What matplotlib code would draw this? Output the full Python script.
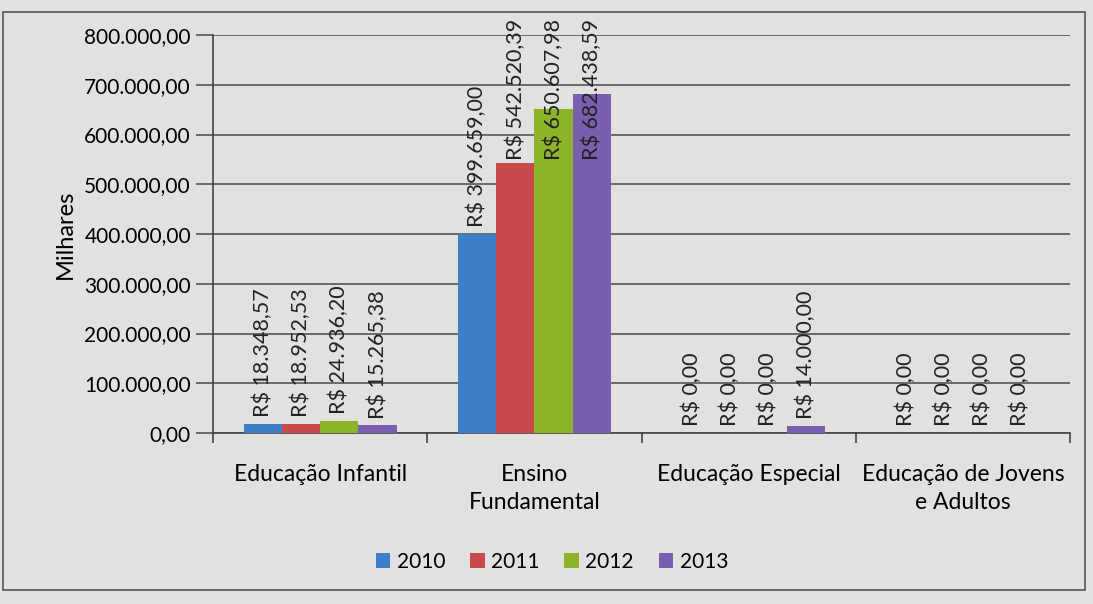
import matplotlib.pyplot as plt
import matplotlib.patches as patches
from matplotlib.ticker import FuncFormatter
import numpy as np

plt.rcParams['font.family'] = ['Lato', 'DejaVu Sans']

categorias = ['Educação Infantil', 'Ensino\nFundamental', 'Educação Especial', 'Educação de Jovens\ne Adultos']
anos = ['2010', '2011', '2012', '2013']
valores = {
    '2010': [18348.57, 399659.00, 0.00, 0.00],
    '2011': [18952.53, 542520.39, 0.00, 0.00],
    '2012': [24936.20, 650607.98, 0.00, 0.00],
    '2013': [15265.38, 682438.59, 14000.00, 0.00],
}
cores = ['#3d7fc8', '#c94a4a', '#8db32a', '#7a5fb0']

def br(v, dec=2):
    s = '{:,.{}f}'.format(v, dec)
    return s.replace(',', 'X').replace('.', ',').replace('X', '.')

fig = plt.figure(figsize=(10.93, 6.04), dpi=100, facecolor='#e1e1df')
ax = fig.add_axes([0.195, 0.283, 0.784, 0.659])
ax.set_facecolor('#e1e1df')

x = np.arange(len(categorias))
w = 0.178
labels = []
for i, ano in enumerate(anos):
    pos = x + (i - 1.5) * w
    ax.bar(pos, valores[ano], w, color=cores[i], label=ano, zorder=3)
    for p, v in zip(pos, valores[ano]):
        t = ax.annotate('R$ ' + br(v), (p, v), xytext=(0, 5), textcoords='offset points',
                        rotation=90, ha='center', va='bottom', fontsize=15.5, color='#222222', zorder=4)
        labels.append(t)

ax.set_xlim(-0.5, 3.5)
ax.set_ylim(0, 800000)
ax.set_yticks(np.arange(0, 800001, 100000))
ax.yaxis.set_major_formatter(FuncFormatter(lambda v, p: br(v)))
ax.grid(axis='y', color='#555555', linewidth=1.2, zorder=0)
ax.set_xticks(x)
ax.set_xticklabels(categorias, fontsize=16.5, linespacing=1.45)
ax.set_xticks([-0.5, 0.5, 1.5, 2.5, 3.5], minor=True)
ax.tick_params(axis='x', which='major', length=0, pad=22)
ax.tick_params(axis='x', which='minor', length=7, width=1.2, color='#444444')
ax.tick_params(axis='y', length=12, width=1.2, color='#555555', labelsize=15, pad=4)
for s in ['top', 'right']:
    ax.spines[s].set_visible(False)
ax.spines['left'].set_color('#444444')
ax.spines['bottom'].set_color('#444444')
ax.spines['left'].set_linewidth(1.2)
ax.spines['bottom'].set_linewidth(1.2)
ax.set_ylabel('Milhares', fontsize=17, labelpad=6)

# keep rotated labels inside the chart area
fig.canvas.draw()
r = fig.canvas.get_renderer()
limite = ax.get_window_extent(r).y1 + 16
for t in labels:
    bb = t.get_window_extent(r)
    if bb.y1 > limite:
        t.set_position((0, 5 - (bb.y1 - limite) * 72 / fig.dpi))

fig.legend(loc='center', bbox_to_anchor=(0.505, 0.07), ncol=4, frameon=False, fontsize=15,
           handlelength=0.7, handleheight=0.7, handletextpad=0.3, columnspacing=1.2)

fig.patches.append(patches.Rectangle((0.003, 0.024), 0.99, 0.956, transform=fig.transFigure,
                                     fill=False, edgecolor='#555555', linewidth=1.2))

fig.savefig('out.png', dpi=100, facecolor=fig.get_facecolor())
